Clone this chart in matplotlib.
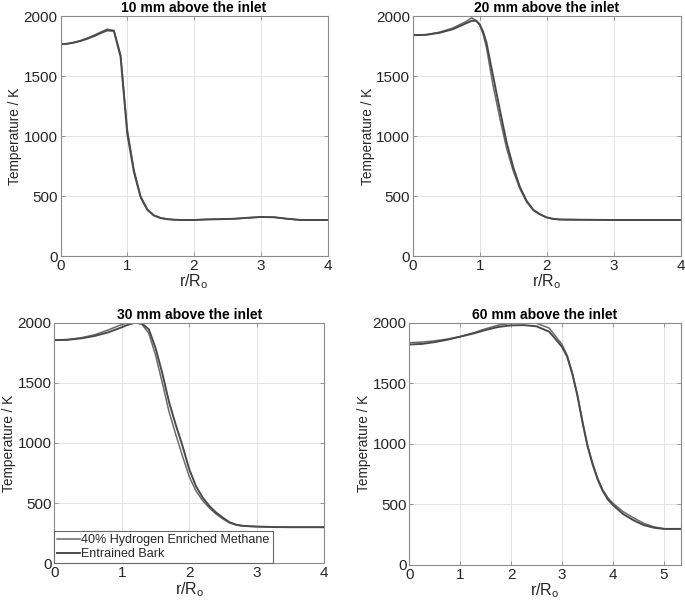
import matplotlib
matplotlib.use("Agg")
import matplotlib.pyplot as plt

plt.rcParams['font.family'] = ['Liberation Sans', 'DejaVu Sans']
plt.rcParams['mathtext.fontset'] = 'custom'
plt.rcParams['mathtext.rm'] = 'Liberation Sans'
plt.rcParams['mathtext.it'] = 'Liberation Sans:italic'

# ---- data ----
titles = ["10 mm above the inlet", "20 mm above the inlet",
          "30 mm above the inlet", "60 mm above the inlet"]
series_names = ["40% Hydrogen Enriched Methane", "Entrained Bark"]

r10 = [0, 0.1, 0.2, 0.3, 0.4, 0.5, 0.6, 0.7, 0.8, 0.9, 1.0, 1.1, 1.2, 1.3, 1.4,
       1.5, 1.6, 1.7, 1.8, 2.0, 2.2, 2.4, 2.6, 2.8, 3.0, 3.2, 3.4, 3.6, 3.8, 4.0]
h2_10 = [1765, 1770, 1780, 1795, 1815, 1840, 1865, 1890, 1880, 1680, 1060, 720, 500,
         390, 340, 318, 308, 303, 301, 300, 305, 307, 310, 318, 325, 323, 310, 300, 300, 300]
bark_10 = [1765, 1768, 1778, 1792, 1810, 1832, 1857, 1880, 1875, 1660, 1020, 700, 490,
           385, 337, 316, 307, 302, 300, 300, 305, 307, 310, 318, 325, 323, 310, 300, 300, 300]

r20 = [0, 0.2, 0.4, 0.6, 0.8, 0.88, 0.95, 1.0, 1.05, 1.1, 1.2, 1.3, 1.4, 1.5, 1.6,
       1.7, 1.8, 1.9, 2.0, 2.1, 2.2, 2.5, 3.0, 4.0]
h2_20 = [1840, 1845, 1865, 1900, 1955, 1985, 1960, 1925, 1850, 1740, 1420, 1150, 900,
         710, 560, 450, 380, 345, 320, 308, 304, 302, 300, 300]
bark_20 = [1840, 1843, 1860, 1890, 1940, 1960, 1960, 1930, 1870, 1780, 1500, 1220, 950,
           740, 575, 460, 385, 348, 322, 309, 304, 302, 300, 300]

r30 = [0, 0.2, 0.4, 0.6, 0.8, 1.0, 1.1, 1.2, 1.3, 1.4, 1.5, 1.6, 1.7, 1.8, 1.9, 2.0,
       2.1, 2.2, 2.3, 2.4, 2.5, 2.6, 2.7, 2.8, 3.0, 3.3, 3.5, 4.0]
h2_30 = [1855, 1860, 1875, 1900, 1940, 1985, 2000, 2005, 1985, 1912, 1730, 1500, 1260,
         1070, 890, 720, 600, 520, 458, 408, 368, 335, 318, 310, 305, 301, 300, 300]
bark_30 = [1855, 1858, 1870, 1890, 1920, 1962, 1985, 2000, 1992, 1945, 1790, 1580, 1340,
           1150, 975, 780, 640, 545, 475, 420, 378, 340, 320, 311, 305, 301, 300, 300]

r60 = [0, 0.25, 0.5, 0.75, 1.0, 1.25, 1.5, 1.75, 2.0, 2.25, 2.5, 2.75, 3.0, 3.1, 3.2,
       3.3, 3.4, 3.5, 3.6, 3.7, 3.8, 3.9, 4.0, 4.2, 4.4, 4.6, 4.8, 5.0, 5.1, 5.33]
h2_60 = [1835, 1840, 1850, 1865, 1885, 1915, 1950, 1980, 1995, 2002, 1995, 1955, 1820,
         1730, 1590, 1410, 1190, 990, 840, 715, 620, 555, 510, 440, 390, 345, 315, 300, 298, 298]
bark_60 = [1820, 1825, 1840, 1860, 1885, 1910, 1940, 1965, 1978, 1980, 1970, 1925, 1800,
           1720, 1580, 1400, 1180, 980, 830, 705, 610, 540, 495, 420, 370, 330, 308, 298, 298, 298]

xlims = [4, 4, 4, 5.33]
xticks = [[0, 1, 2, 3, 4], [0, 1, 2, 3, 4], [0, 1, 2, 3, 4], [0, 1, 2, 3, 4, 5]]
yticks = [0, 500, 1000, 1500, 2000]

# ---- figure ----
W, H = 685, 607
fig = plt.figure(figsize=(W / 100, H / 100), dpi=100)

def box(l, r, t, b):
    return [l / W, 1 - b / H, (r - l) / W, (b - t) / H]

rects = [box(60.5, 327.5, 16, 256), box(412.7, 680.7, 16, 256),
         box(54.3, 324.3, 322.7, 563.3), box(409.3, 680.7, 322.7, 565)]
data = [(r10, h2_10, bark_10), (r20, h2_20, bark_20),
        (r30, h2_30, bark_30), (r60, h2_60, bark_60)]

txt = '#262626'
for i, rect in enumerate(rects):
    ax = fig.add_axes(rect)
    r, a, b = data[i]
    ax.plot(r, a, color='#6a6a6a', lw=1.1, label=series_names[0])
    ax.plot(r, b, color='#4a4a4a', lw=1.4, label=series_names[1])
    ax.set_xlim(0, xlims[i])
    ax.set_ylim(0, 2000)
    ax.set_xticks(xticks[i])
    ax.set_yticks(yticks)
    ax.grid(True, color='#e3e3e3', lw=0.7)
    ax.set_axisbelow(True)
    for s in ax.spines.values():
        s.set_color('#8a8a8a')
        s.set_linewidth(0.8)
    ax.tick_params(direction='in', length=3, width=0.6, color='#8a8a8a',
                   labelsize=11, labelcolor=txt, top=True, right=True, pad=2)
    ax.set_title(titles[i], fontsize=10, fontweight='bold', color='black', pad=3)
    ax.set_xlabel(r'r/R$_\mathrm{o}$', fontsize=11.5, color=txt, labelpad=0)
    ax.set_ylabel('Temperature / K', fontsize=9.8, color=txt, labelpad=1)
    if i == 2:
        leg = ax.legend(loc='lower left', borderaxespad=0, fontsize=9,
                        handlelength=1.8, handletextpad=0.1, fancybox=False,
                        framealpha=1, edgecolor='#6a6a6a', borderpad=0.25,
                        labelspacing=0.15)
        leg.get_frame().set_linewidth(0.8)
        for t in leg.get_texts():
            t.set_color(txt)

fig.savefig('out.png', dpi=100)
